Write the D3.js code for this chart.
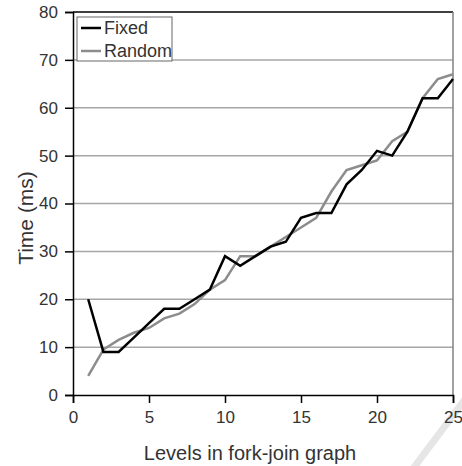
<!DOCTYPE html>
<html><head><meta charset="utf-8">
<script src="https://cdn.jsdelivr.net/npm/d3@7"></script>
<style>body{margin:0;background:#fff;}svg{display:block;}</style>
</head><body>
<svg id="c" width="462" height="466"></svg>
<script>
const levels = [1,2,3,4,5,6,7,8,9,10,11,12,13,14,15,16,17,18,19,20,21,22,23,24,25];
const fixedTimes  = [20,9,9,12,15,18,18,20,22,29,27,29,31,32,37,38,38,44,47,51,50,55,62,62,66];
const randomTimes = [4,9.5,11.5,13,14,16,17,19,22,24,29,29,31,33,35,37,42.5,47,48,49,53,55,62,66,67];
const xTicks = [0,5,10,15,20,25];
const yTicks = [0,10,20,30,40,50,60,70,80];
const seriesNames = ["Fixed","Random"];
const seriesColors = ["#000000","#8c8c8c"];

const svg = d3.select("#c");
const L = 73, R = 453, T = 12, B = 395;
const x = d3.scaleLinear().domain([0,25]).range([L,R]);
const y = d3.scaleLinear().domain([0,80]).range([B,T]);
const font = "Liberation Sans, Arial, sans-serif";

// faint watermark stroke
svg.append("line").attr("x1",466).attr("y1",398).attr("x2",412).attr("y2",470)
  .attr("stroke","#e6e6e6").attr("stroke-width",7);

// grid
svg.append("g").selectAll("line").data(yTicks.filter(d=>d>0&&d<80)).join("line")
  .attr("x1",L).attr("x2",R).attr("y1",d=>y(d)).attr("y2",d=>y(d))
  .attr("stroke","#a6a6a6").attr("stroke-width",1.5);
// frame top/right
svg.append("line").attr("x1",L).attr("x2",R).attr("y1",T).attr("y2",T).attr("stroke","#000").attr("stroke-width",1.5);
svg.append("line").attr("x1",R).attr("x2",R).attr("y1",T).attr("y2",B).attr("stroke","#808080").attr("stroke-width",1.5);

// axes
const xa = svg.append("g").attr("transform",`translate(0,${B})`)
  .call(d3.axisBottom(x).tickValues(xTicks).tickSize(8).tickPadding(8));
const ya = svg.append("g").attr("transform",`translate(${L},0)`)
  .call(d3.axisLeft(y).tickValues(yTicks).tickSize(8).tickPadding(7));
[xa,ya].forEach(a=>{
  a.select(".domain").attr("stroke","#000").attr("stroke-width",1.5);
  a.selectAll(".tick line").attr("stroke","#000").attr("stroke-width",1.5);
  a.selectAll(".tick text").attr("fill","#333").style("font-family",font).style("font-size","17px");
});

// lines
const series = [fixedTimes, randomTimes];
const lineGen = d3.line().x((d,i)=>x(levels[i])).y(d=>y(d));
[1,0].forEach(k=>{
  svg.append("path").datum(series[k]).attr("d",lineGen)
    .attr("fill","none").attr("stroke",seriesColors[k]).attr("stroke-width",2.5)
    .attr("stroke-linejoin","miter");
});

// legend
const lg = svg.append("g");
lg.append("rect").attr("x",77).attr("y",17).attr("width",95).attr("height",44)
  .attr("fill","#fff").attr("stroke","#666").attr("stroke-width",1);
seriesNames.forEach((n,i)=>{
  const yy = 28 + i*23;
  lg.append("line").attr("x1",81).attr("x2",101).attr("y1",yy).attr("y2",yy)
    .attr("stroke",seriesColors[i]).attr("stroke-width",2.5);
  lg.append("text").attr("x",104).attr("y",yy+6).text(n)
    .attr("fill","#333").style("font-family",font).style("font-size","18px");
});

// axis titles
svg.append("text").attr("x",(L+R)/2 - 13).attr("y",460).attr("text-anchor","middle")
  .text("Levels in fork-join graph").attr("fill","#333").style("font-family",font).style("font-size","20px");
svg.append("text").attr("transform",`translate(33,${218}) rotate(-90)`).attr("text-anchor","middle")
  .text("Time (ms)").attr("fill","#333").style("font-family",font).style("font-size","21px");
</script>
</body></html>
